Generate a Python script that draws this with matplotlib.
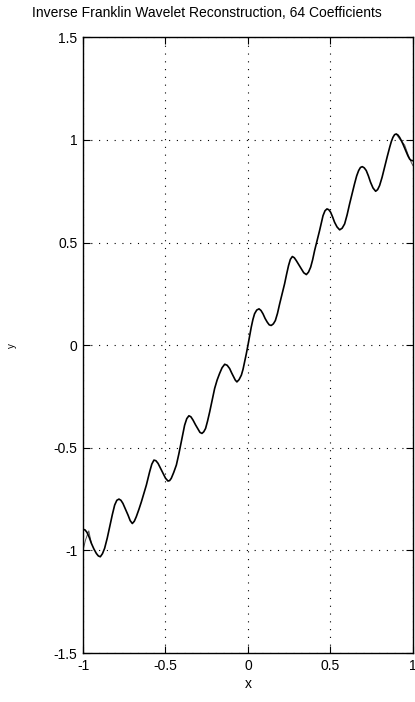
import numpy as np
import matplotlib
matplotlib.use('Agg')
import matplotlib.pyplot as plt

# reconstruction curve
x_rec = [-1.000, -0.988, -0.976, -0.962, -0.949, -0.934, -0.919, -0.907, -0.895, -0.882,
         -0.869, -0.853, -0.838, -0.822, -0.808, -0.795, -0.782, -0.770, -0.758, -0.742,
         -0.727, -0.714, -0.701, -0.689, -0.677, -0.661, -0.646, -0.631, -0.616, -0.596,
         -0.583, -0.570, -0.558, -0.545, -0.530, -0.515, -0.500, -0.485, -0.475, -0.465,
         -0.450, -0.434, -0.419, -0.404, -0.384, -0.371, -0.358, -0.346, -0.333, -0.318,
         -0.303, -0.291, -0.279, -0.268, -0.257, -0.245, -0.232, -0.217, -0.202, -0.187,
         -0.172, -0.157, -0.141, -0.126, -0.111, -0.099, -0.087, -0.077, -0.067, -0.054,
         -0.040, -0.030, -0.020, -0.010, 0.000, 0.010, 0.020, 0.030, 0.040, 0.053,
         0.067, 0.079, 0.091, 0.104, 0.117, 0.129, 0.141, 0.154, 0.166, 0.179,
         0.192, 0.207, 0.222, 0.234, 0.246, 0.257, 0.269, 0.281, 0.293, 0.308,
         0.323, 0.338, 0.354, 0.367, 0.380, 0.392, 0.404, 0.419, 0.434, 0.455,
         0.467, 0.479, 0.490, 0.501, 0.513, 0.525, 0.540, 0.556, 0.571, 0.586,
         0.601, 0.616, 0.631, 0.646, 0.659, 0.671, 0.682, 0.693, 0.705, 0.717,
         0.730, 0.743, 0.758, 0.774, 0.786, 0.798, 0.813, 0.828, 0.844, 0.859,
         0.869, 0.879, 0.889, 0.899, 0.909, 0.919, 0.929, 0.939, 0.950, 0.960,
         0.970, 0.980, 0.990, 1.000]
y_rec = [-0.898, -0.900, -0.912, -0.937, -0.966, -0.993, -1.015, -1.027, -1.031, -1.016,
         -0.990, -0.940, -0.885, -0.825, -0.779, -0.756, -0.750, -0.756, -0.771, -0.800,
         -0.828, -0.855, -0.869, -0.858, -0.836, -0.800, -0.763, -0.722, -0.682, -0.617,
         -0.580, -0.560, -0.563, -0.576, -0.600, -0.625, -0.648, -0.662, -0.660, -0.649,
         -0.620, -0.584, -0.530, -0.471, -0.390, -0.358, -0.344, -0.349, -0.365, -0.388,
         -0.409, -0.425, -0.430, -0.422, -0.406, -0.370, -0.325, -0.268, -0.211, -0.170,
         -0.138, -0.110, -0.093, -0.098, -0.114, -0.135, -0.154, -0.170, -0.179, -0.168,
         -0.146, -0.118, -0.081, -0.042, 0.000, 0.045, 0.088, 0.125, 0.153, 0.171,
         0.177, 0.169, 0.153, 0.130, 0.112, 0.099, 0.096, 0.104, 0.120, 0.155,
         0.201, 0.250, 0.299, 0.345, 0.388, 0.418, 0.432, 0.426, 0.412, 0.392,
         0.372, 0.353, 0.344, 0.356, 0.380, 0.416, 0.461, 0.510, 0.558, 0.631,
         0.655, 0.664, 0.660, 0.648, 0.625, 0.599, 0.576, 0.562, 0.570, 0.591,
         0.635, 0.688, 0.738, 0.786, 0.825, 0.851, 0.866, 0.870, 0.864, 0.851,
         0.825, 0.794, 0.766, 0.750, 0.758, 0.778, 0.818, 0.867, 0.918, 0.964,
         0.992, 1.013, 1.026, 1.029, 1.024, 1.013, 0.998, 0.981, 0.960, 0.940,
         0.922, 0.907, 0.900, 0.899]

# original signal, only visible where it departs from the reconstruction (ends)
x_org_left = [-1.000, -0.985, -0.965, -0.949]
y_org_left = [-1.000, -0.950, -0.905, -0.966]
x_org_right = [0.899, 0.919, 0.935, 0.950, 0.970, 0.990, 1.000]
y_org_right = [1.029, 1.005, 0.990, 0.975, 0.930, 0.890, 0.875]

x_ticks = [-1, -0.5, 0, 0.5, 1]
y_ticks = [-1.5, -1, -0.5, 0, 0.5, 1, 1.5]

plt.rcParams['font.family'] = ['Liberation Sans', 'DejaVu Sans']
plt.rcParams['axes.unicode_minus'] = False

fig = plt.figure(figsize=(4.15, 7.02), dpi=100)
ax = fig.add_axes([0.2, 0.0698, 0.795, 0.877])

ax.plot(x_org_left, y_org_left, color='#555555', lw=0.7)
ax.plot(x_org_right, y_org_right, color='#555555', lw=0.7)
ax.plot(x_rec, y_rec, color='black', lw=1.2)

ax.set_xlim(-1, 1)
ax.set_ylim(-1.5, 1.5)
ax.set_xticks(x_ticks)
ax.set_yticks(y_ticks)
ax.set_xticklabels(['{:g}'.format(v) for v in x_ticks])
ax.set_yticklabels(['{:g}'.format(v) for v in y_ticks])
ax.tick_params(direction='in', length=5, width=0.8, top=True, right=True,
               labelsize=10, pad=4)
ax.grid(True, color='black', linestyle=(0, (1, 6)), linewidth=0.8)
for s in ax.spines.values():
    s.set_linewidth(1.0)

# title sits centred on the figure, not the axes
fig.text(207 / 415, 0.981, 'Inverse Franklin Wavelet Reconstruction, 64 Coefficients',
         fontsize=10, ha='center', va='center')
ax.set_xlabel('x', fontsize=10, labelpad=3)
ax.set_ylabel('y', fontsize=7)
ax.yaxis.set_label_coords(-0.2, 0.5)

fig.savefig('out.png', dpi=100)
